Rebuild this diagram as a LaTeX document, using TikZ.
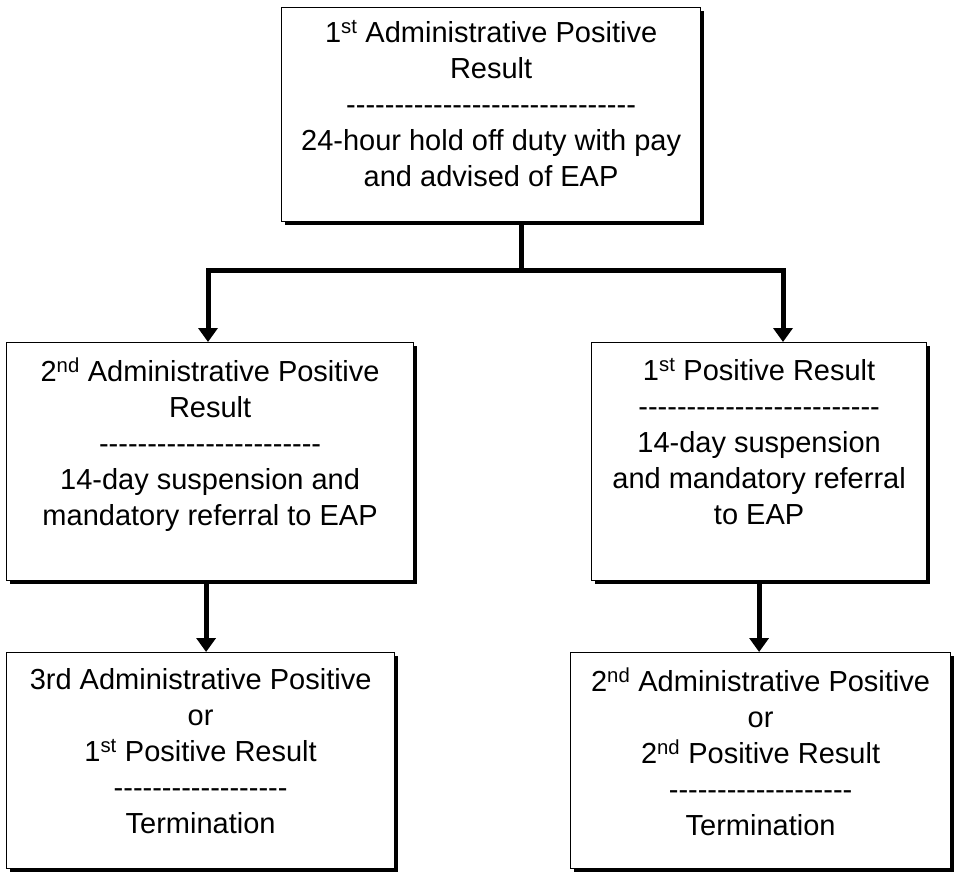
\documentclass[tikz,border=0pt]{standalone}
\usepackage{fontspec}
\newfontfamily\boxfont{Liberation Sans}
\usetikzlibrary{arrows.meta, shadows, positioning}

\newcommand{\dashrow}[1]{\foreach \k in {1,...,#1}{-}}

\begin{document}
\begin{tikzpicture}[x=1pt, y=-1pt,
	box/.style={draw, fill=white, line width=1.2pt, inner sep=0pt, anchor=north west,
		drop shadow={shadow xshift=3.5pt, shadow yshift=-3.5pt, opacity=1, fill=black}},
	txt/.style={align=center, inner sep=0pt, anchor=north,
		font=\fontsize{29pt}{36pt}\boxfont},
	link/.style={line width=5pt},
	arrowlink/.style={line width=5pt, -{Triangle[length=14pt, width=19pt]}}]
		\useasboundingbox (0,0) rectangle (955,873);
		\node [box, minimum width=419pt, minimum height=214pt] (first) at (281,7) {};
		\node [box, minimum width=407pt, minimum height=238pt] (secondadm) at (6,342) {};
		\node [box, minimum width=335pt, minimum height=238pt] (firstpos) at (591,342) {};
		\node [box, minimum width=388pt, minimum height=216pt] (thirdadm) at (6,652) {};
		\node [box, minimum width=380pt, minimum height=216pt] (secondpos) at (570,652) {};
		\node [txt, below=13pt of first.north] (firsttext) {1\textsuperscript{st} Administrative Positive\\Result\\\dashrow{30}\\24-hour hold off duty with pay\\and advised of EAP};
		\node [txt, below=16pt of secondadm.north] (secondadmtext) {2\textsuperscript{nd} Administrative Positive\\Result\\\dashrow{23}\\14-day suspension and\\mandatory referral to EAP};
		\node [txt, below=16pt of firstpos.north] (firstpostext) {1\textsuperscript{st} Positive Result\\\dashrow{25}\\14-day suspension\\and mandatory referral\\to EAP};
		\node [txt, below=16pt of thirdadm.north] (thirdadmtext) {3rd Administrative Positive\\or\\1\textsuperscript{st} Positive Result\\\dashrow{18}\\Termination};
		\node [txt, below=16pt of secondpos.north] (secondpostext) {2\textsuperscript{nd} Administrative Positive\\or\\2\textsuperscript{nd} Positive Result\\\dashrow{19}\\Termination};
		\coordinate (split) at (521,270);
		\coordinate (lturn) at (208,270);
		\coordinate (rturn) at (783,270);
		\path [draw, link] (first.south -| split) -- (split);
		\path [draw, arrowlink] (split) -- (lturn) -- (lturn |- secondadm.north);
		\path [draw, arrowlink] (split) -- (rturn) -- (rturn |- firstpos.north);
		\path [draw, arrowlink] ([xshift=-4pt]secondadm.south) -- ([xshift=-4pt]secondadm.south |- thirdadm.north);
		\path [draw, arrowlink] (firstpos.south) -- (firstpos.south |- secondpos.north);
	\end{tikzpicture}
\end{document}
